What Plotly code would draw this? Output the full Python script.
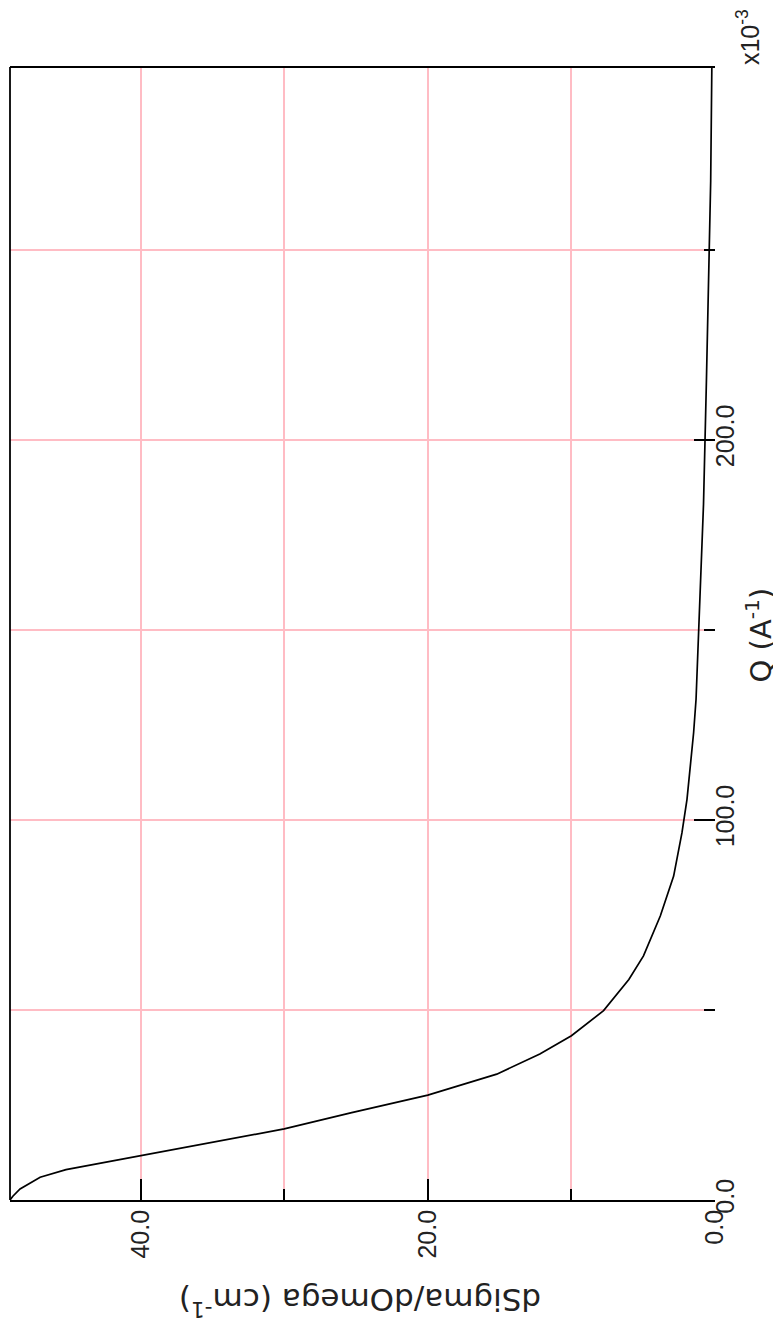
import plotly.graph_objects as go

# Q in units of 1e-3 A^-1 (axis shows x10^-3)
q_vals = [0, 1, 2.9, 6.0, 8.0, 11.6, 15.2, 18.7, 23.0, 27.6, 33.1, 38.4, 43.2, 49.8,
          58.0, 64.2, 74.7, 85.2, 96.6, 105.4, 114.1, 122.9, 131.7, 148, 164, 183,
          215, 240, 268, 298]
dsig_vals = [49.1, 48.9, 48.4, 47.0, 45.2, 40.0, 34.9, 30.0, 25.3, 20.0, 15.2, 12.2, 10.0, 7.76,
             6.0, 4.98, 3.81, 2.88, 2.30, 1.95, 1.72, 1.49, 1.32, 1.15, 1.0, 0.8,
             0.6, 0.45, 0.3, 0.22]

q_ticks = [0, 100, 200]
q_ticktext = ["0.0", "100.0", "200.0"]
d_ticks = [0, 20, 40]
d_ticktext = ["0.0", "20.0", "40.0"]

pink = "#ffbcc4"
tickfont = dict(family="Liberation Sans, Arial, sans-serif", size=25, color="#222")
titlefont = dict(family="DejaVu Sans, sans-serif", size=31, color="#222")
qfont = dict(family="DejaVu Sans, sans-serif", size=29, color="#222")

fig = go.Figure()
fig.add_trace(go.Scatter(x=dsig_vals, y=q_vals, mode="lines",
                         line=dict(color="black", width=1.7), showlegend=False,
                         hoverinfo="skip"))

fig.update_layout(
    width=773, height=1330,
    margin=dict(l=2, r=66, t=59, b=138),
    paper_bgcolor="white", plot_bgcolor="white",
    xaxis=dict(range=[49.1, 0], tickvals=d_ticks, ticktext=d_ticktext, tickangle=-90,
               ticks="inside", ticklen=21, tickwidth=1.5, tickcolor="black",
               showgrid=True, gridcolor=pink, gridwidth=2, zeroline=False,
               showline=True, linecolor="black", linewidth=1.8, mirror=False,
               tickfont=tickfont, ticklabelstandoff=-2,
               minor=dict(dtick=10, tick0=0, ticks="inside", ticklen=11, tickwidth=1.5,
                          tickcolor="black", showgrid=True, gridcolor=pink, gridwidth=2)),
    yaxis=dict(range=[0, 298], side="right", tickvals=q_ticks, ticktext=q_ticktext,
               tickangle=-90, ticks="inside", ticklen=21, tickwidth=1.5, tickcolor="black",
               showgrid=True, gridcolor=pink, gridwidth=2, zeroline=False,
               showline=False, tickfont=tickfont, ticklabelstandoff=-7,
               minor=dict(dtick=50, tick0=0, ticks="inside", ticklen=11, tickwidth=1.5,
                          tickcolor="black", showgrid=True, gridcolor=pink, gridwidth=2)),
    shapes=[
        dict(type="line", xref="paper", yref="paper", x0=0, x1=0, y0=0, y1=1,
             line=dict(color="black", width=1.8)),
        dict(type="line", xref="paper", yref="paper", x0=0, x1=1, y0=1, y1=1,
             line=dict(color="black", width=1.8)),
    ],
    annotations=[
        dict(text="dSigma/dOmega (cm<sup>-1</sup>)", xref="paper", yref="paper",
             x=0.4965, y=-0.090, xanchor="center", yanchor="middle", textangle=180,
             showarrow=False, font=titlefont),
        dict(text="Q (A<sup>-1</sup>)", xref="paper", yref="paper",
             x=1.0915, y=0.4987, xanchor="right", yanchor="middle", textangle=-90,
             showarrow=False, font=qfont),
        dict(text="x10<sup>-3</sup>", xref="paper", yref="paper",
             x=1.047, y=1.0265, xanchor="center", yanchor="middle", textangle=-90,
             showarrow=False, font=tickfont),
    ],
)

fig.write_html("out.html")
